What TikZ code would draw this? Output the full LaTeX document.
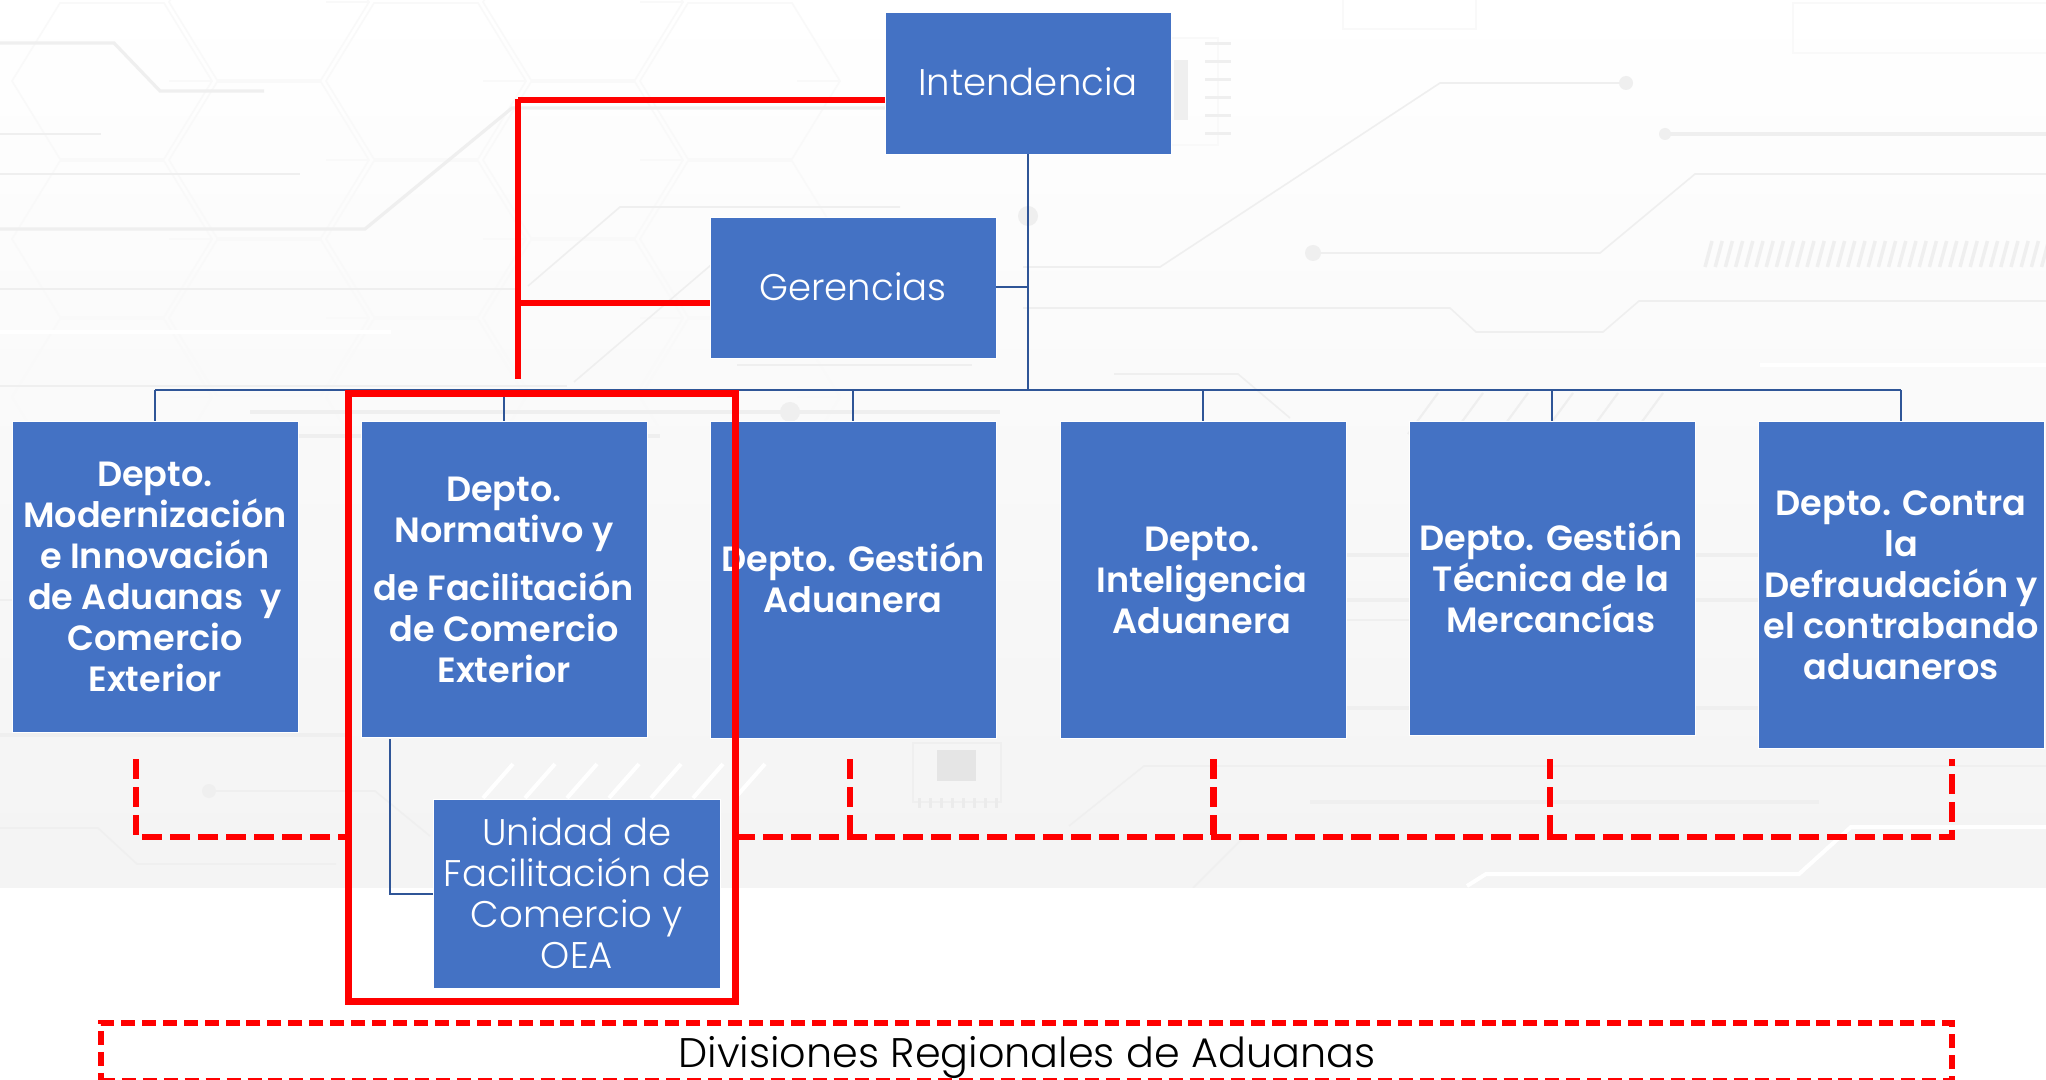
\documentclass[tikz,border=0pt]{standalone}
\usepackage{fontspec}
\setmainfont{Poppins Light}[BoldFont=Poppins SemiBold]
\usetikzlibrary{calc}
\definecolor{boxblue}{HTML}{4472C4}
\definecolor{linkblue}{HTML}{2F5597}
\definecolor{tracegray}{HTML}{EFEFEF}
\definecolor{hexgray}{HTML}{F9F9F9}
\tikzset{
  box/.style={rectangle,fill=boxblue,draw=white,line width=.6pt,inner sep=0pt,outer sep=0pt,anchor=north west},
  lbl/.style={text=white,align=center,inner sep=0pt,font=\fontsize{27.8}{30.75}\selectfont},
  lblb/.style={lbl,font=\fontsize{26.3}{30.75}\selectfont\bfseries},
  link/.style={draw=linkblue,line width=1.5pt},
  redline/.style={draw=red,line width=4.5pt},
  reddash/.style={draw=red,line width=5.2pt,dash pattern=on 14.8pt off 6.2pt},
  trace/.style={draw=tracegray,line width=2.4pt},
  thintrace/.style={draw=tracegray,line width=1.2pt},
  whitetrace/.style={draw=white,line width=3pt},
}
\begin{document}
\begin{tikzpicture}[x=0.75pt,y=-0.75pt]
\useasboundingbox (0,0) rectangle (2046,1080);
\fill[white] (0,0) rectangle (2046,1080);
% background artwork
\shade[top color=white,bottom color=black!4.5] (0,0) rectangle (2046,888);
\foreach \cx/\cy in {112/81,112/239,112/397,426/81,426/239,426/397,740/81,740/239,740/397,269/2,269/160,269/318,583/2,583/160,583/318}{
  \draw[hexgray,line width=1.2pt] (\cx-100,\cy)--(\cx-52,\cy-78)--(\cx+52,\cy-78)--(\cx+100,\cy)--(\cx+52,\cy+78)--(\cx-52,\cy+78)--cycle;
  \draw[hexgray,line width=1.2pt] (\cx+100,\cy)--(\cx+57,\cy);
}
\draw[trace] (0,229)--(365,229)--(512,108)--(885,108);
\draw[trace] (0,43)--(114,43)--(160,91)--(264,91);
\draw[thintrace] (0,134)--(101,134);
\draw[thintrace] (0,174)--(300,174);
\draw[thintrace] (0,289)--(520,289);
\draw[thintrace] (528,286)--(620,207)--(900,207);
\draw[whitetrace] (0,332)--(391,332);
\draw[thintrace] (711,265)--(574,382);
\draw[thintrace] (0,386)--(567,386);
\draw[thintrace] (737,365)--(972,365);
\draw[thintrace] (1023,267)--(1160,267)--(1440,83)--(1626,83);
\fill[tracegray] (1626,83) circle (7);
\draw[trace] (1665,134)--(2046,134);
\fill[tracegray] (1665,134) circle (6);
\draw[thintrace] (1313,253)--(1600,253)--(1695,174)--(2046,174);
\fill[tracegray] (1313,253) circle (8);
\foreach \i in {0,...,33}{\draw[tracegray,line width=2.6pt] (1705+\i*10.2,267)--(1712+\i*10.2,241);}
\draw[thintrace] (1023,308)--(1450,308)--(1476,332)--(1603,332)--(1639,301)--(2046,301);
\draw[hexgray,line width=1.2pt] (1793,3) rectangle (2060,53);
\draw[hexgray,line width=1.2pt] (1343,-5) rectangle (1476,29);
\draw[hexgray,line width=1pt] (1171,38) rectangle (1218,145);
\foreach \i in {0,...,5}{\fill[tracegray] (1205,42+\i*18) rectangle (1231,45+\i*18);}
\fill[tracegray] (1174,60) rectangle (1188,120);
\fill[tracegray] (1028,216) circle (10);
\draw[thintrace] (1114,374)--(1238,374)--(1290,418);
\draw[whitetrace] (1760,365)--(2046,365);
\foreach \i in {0,...,5}{\draw[tracegray,line width=1.6pt] (1408+\i*45,434)--(1438+\i*45,393);}
\draw[trace] (250,412)--(1000,412);
\fill[tracegray] (790,412) circle (10);
\draw[trace] (298,436)--(660,436);
\draw[thintrace] (0,600)--(12,600);
\draw[thintrace] (1346,620)--(1409,620);
\draw[trace] (1346,555)--(1409,555);\draw[trace] (1695,555)--(1758,555);
\draw[trace] (1346,600)--(1409,600);\draw[trace] (1695,600)--(1758,600);
\draw[trace] (1346,708)--(1409,708);\draw[trace] (1695,708)--(1758,708);
\draw[trace] (0,735)--(345,735);
\fill[tracegray] (209,791) circle (7);
\draw[thintrace] (209,791)--(375,791)--(430,836);
\draw[thintrace] (0,828)--(98,828)--(137,864)--(336,864);
\foreach \i in {0,...,6}{\draw[whitetrace] (483+\i*42,798)--(513+\i*42,764);}
\draw[tracegray,line width=1pt] (913,743) rectangle (1001,802);
\foreach \i in {0,...,7}{\fill[black!8] (918+\i*11,798) rectangle (921+\i*11,808);}
\fill[black!10] (937,750) rectangle (976,781);
\draw[thintrace] (1069,826)--(1144,766)--(2046,766);
\draw[trace] (1310,802)--(1819,802);
\draw[whitetrace] (1467,886)--(1486,874)--(1799,874)--(1851,827)--(2046,827);
\draw[thintrace] (1245,836)--(1193,888);
\fill[white] (0,888) rectangle (2046,1080);

% boxes
\node[box,minimum width=214.5pt,minimum height=106.5pt] (int) at (885,12) {};
\node[box,minimum width=214.5pt,minimum height=105.75pt] (ger) at (710,217) {};
\node[box,minimum width=214.5pt,minimum height=233.25pt] (d1) at (12,421) {};
\node[box,minimum width=214.5pt,minimum height=237pt] (d2) at (361,421) {};
\node[box,minimum width=214.5pt,minimum height=237.75pt] (d3) at (710,421) {};
\node[box,minimum width=214.5pt,minimum height=237.75pt] (d4) at (1060,421) {};
\node[box,minimum width=214.5pt,minimum height=235.5pt] (d5) at (1409,421) {};
\node[box,minimum width=214.5pt,minimum height=245.25pt] (d6) at (1758,421) {};
\node[box,minimum width=215.25pt,minimum height=141.75pt] (uni) at (433,799) {};
% blue connectors
\coordinate (bus) at (1028,390);
\coordinate (ugap) at (389.5,739);
\draw[link] (int.south) -- (bus);
\draw[link] (ger.east) -- (ger.east -| bus);
\draw[link] (bus -| d1.north) -- (bus -| d6.north);
\foreach \n in {d1,d2,d3,d4,d5,d6}{\draw[link] (bus -| \n.north) -- (\n.north);}
\draw[link] (ugap) |- (uni.west);
% labels
\node[lbl] (tint) at (1028,82) {Intendencia};
\node[lbl] (tger) at (853,287) {Gerencias};
\node[lblb] (t1) at (155,576.5) {Depto.\\Modernización\\e Innovación\\de Aduanas~ y\\Comercio\\Exterior};
\node[lblb] (t2a) at (504,514) {Depto.\\Normativo y};
\node[lblb] (t2b) at (504,627) {de Facilitación\\de Comercio\\Exterior};
\node[lblb] (t3) at (853,577.5) {Depto. Gestión\\Aduanera};
\node[lblb] (t4) at (1202,580) {Depto.\\Inteligencia\\Aduanera};
\node[lblb] (t5) at (1551,577) {Depto. Gestión\\Técnica de la\\Mercancías};
\node[lblb] (t6) at (1901,585) {Depto. Contra\\la\\Defraudación y\\el contrabando\\aduaneros};
\node[lbl] (tuni) at (577,893) {Unidad de\\Facilitación de\\Comercio y\\OEA};
% red connectors
\coordinate (rtop) at (518,99);
\coordinate (rbot) at (518,379);
\coordinate (rmid) at (518,303);
\draw[redline] (rtop) -- (rbot);
\draw[redline] (rtop |- 0,100.5) -- (int.west |- 0,100.5);
\draw[redline] (rmid) -- (ger.west |- rmid);
\node[draw=red,line width=5.25pt,inner sep=0pt,outer sep=0pt,minimum width=290.25pt,minimum height=455.25pt,anchor=north west] (rbox) at (348,394) {};
% dashed red
\coordinate (dl) at (136,759);
\coordinate (dc3) at (850,759);
\coordinate (dc4) at (1213.5,759);
\coordinate (dc5) at (1550,759);
\coordinate (dc6) at (1952,759);
\coordinate (dh) at (136,837);
\draw[reddash] (dl) -- (dh) -- (dh -| rbox.west);
\draw[reddash] (dh -| rbox.east) -- (dh -| dc6) -- (dc6);
\draw[reddash] (dc3) -- (dc3 |- dh);
\draw[reddash] (dc4) -- (dc4 |- dh);
\draw[reddash] (dc5) -- (dc5 |- dh);
% regional box
\node[draw=red,line width=3.8pt,dash pattern=on 10.5pt off 5.2pt,inner sep=0pt,outer sep=0pt,minimum width=1388.25pt,minimum height=43.5pt,anchor=north west] (reg) at (101,1023) {};
\node[text=black,inner sep=0pt,font=\fontsize{31}{34}\selectfont] (treg) at (1027,1057.5) {Divisiones Regionales de Aduanas};
\end{tikzpicture}
\end{document}
